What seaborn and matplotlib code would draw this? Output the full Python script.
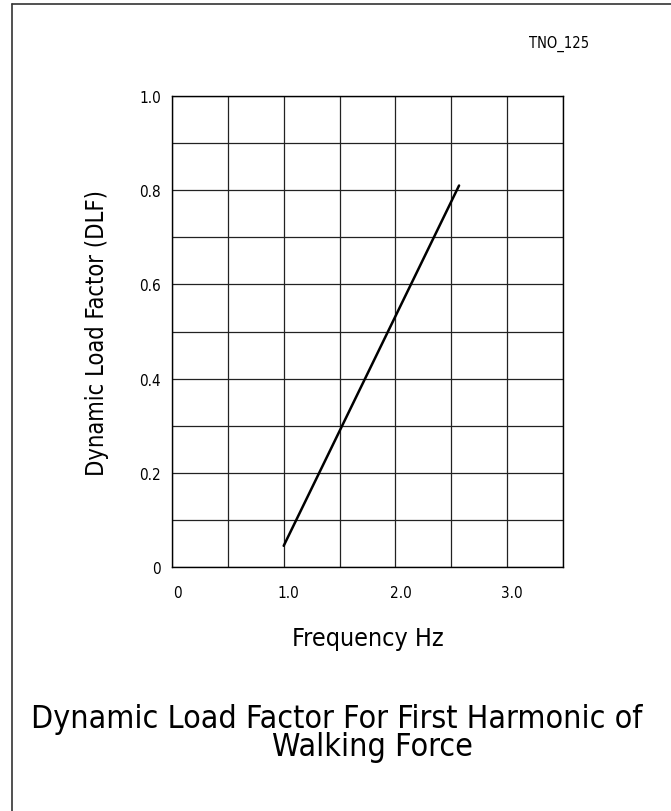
import numpy as np
import pandas as pd
import seaborn as sns
import matplotlib.pyplot as plt
import matplotlib.transforms as mtransforms
from matplotlib.lines import Line2D
from matplotlib.ticker import MultipleLocator

sns.set_theme(style="white")
plt.rcParams["font.family"] = ["DejaVu Sans"]
plt.rcParams["font.stretch"] = "condensed"
plt.rcParams["font.weight"] = "light"
plt.rcParams["text.color"] = "black"

# data
frequency = [1.0, 2.57]
dlf = [0.045, 0.81]

x_ticks = [0.0, 1.0, 2.0, 3.0]
x_tick_labels = ["0", "1.0", "2.0", "3.0"]
y_ticks = [0.0, 0.2, 0.4, 0.6, 0.8, 1.0]
y_tick_labels = ["0", "0.2", "0.4", "0.6", "0.8", "1.0"]

df = pd.DataFrame({"freq": frequency, "dlf": dlf})

fig = plt.figure(figsize=(6.71, 8.12), dpi=100)
ax = fig.add_axes([0.2563, 0.3005, 0.5827, 0.58])

sns.lineplot(data=df, x="freq", y="dlf", ax=ax, color="black", linewidth=1.8)

ax.set_xlim(0, 3.5)
ax.set_ylim(0, 1.0)
ax.xaxis.set_minor_locator(MultipleLocator(0.5))
ax.yaxis.set_minor_locator(MultipleLocator(0.1))
ax.set_xticks(x_ticks)
ax.set_xticklabels(x_tick_labels)
ax.set_yticks(y_ticks)
ax.set_yticklabels(y_tick_labels)
ax.grid(which="both", color="#222222", linewidth=0.9)
ax.set_axisbelow(True)
ax.tick_params(which="both", length=0, labelsize=11, colors="black")
ax.tick_params(axis="x", pad=13)
ax.tick_params(axis="y", pad=8)
for s in ax.spines.values():
    s.set_color("black")
    s.set_linewidth(1.0)

# x tick labels sit a little right of their gridline
offset = mtransforms.ScaledTranslation(5 / 100, 0, fig.dpi_scale_trans)
for lab in ax.get_xticklabels():
    lab.set_transform(lab.get_transform() + offset)

ax.set_xlabel("Frequency Hz", fontsize=18, labelpad=19, color="black")
ax.set_ylabel("Dynamic Load Factor (DLF)", fontsize=17, labelpad=22, color="black")

fig.text(559 / 671, 1 - 44 / 812, "TNO_125", ha="center", va="center", fontsize=10.5)
fig.text(337 / 671, 1 - 720 / 812, "Dynamic Load Factor For First Harmonic of",
         ha="center", va="center", fontsize=23)
fig.text(372 / 671, 1 - 748 / 812, "Walking Force", ha="center", va="center", fontsize=23)

# drawing frame
fig.add_artist(Line2D([11.5 / 671, 1], [1 - 5 / 812, 1 - 5 / 812], color="#333333", lw=1.2,
                      transform=fig.transFigure))
fig.add_artist(Line2D([11.5 / 671, 11.5 / 671], [0, 1 - 5 / 812], color="#333333", lw=1.2,
                      transform=fig.transFigure))

fig.savefig("out.png", dpi=100)
